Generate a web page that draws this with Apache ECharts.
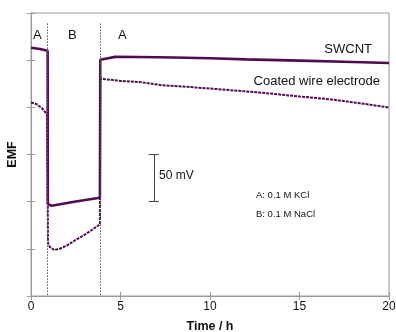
<!DOCTYPE html>
<html><head><meta charset="utf-8">
<script src="https://cdn.jsdelivr.net/npm/echarts@6/dist/echarts.min.js"></script>
<style>html,body{margin:0;padding:0;background:#fff}#c{width:396px;height:332px}</style>
</head><body><div id="c"></div>
<script>
// Time axis ticks (h)
var xTicks = [0, 5, 10, 15, 20];
// SWCNT electrode
var timeSW = [0, 0.5, 0.93, 0.94, 1.15, 2.5, 3.85, 3.87, 4.7, 6, 8, 10, 12, 15, 18, 20];
var emfSW  = [263.2, 261.8, 260, 97.5, 95.7, 100.2, 104.2, 250.5, 253.5, 253.3, 252.8, 252, 250.8, 249.5, 248, 247];
// Coated wire electrode
var timeCW = [0, 0.3, 0.6, 0.9, 0.93, 0.95, 1.05, 1.3, 1.6, 2.0, 2.5, 3.0, 3.4, 3.85, 3.87, 5, 6.2, 7.3, 8.5, 10.3, 12.9, 15, 16.7, 18.4, 20];
var emfCW  = [205.3, 203.5, 199.3, 192.4, 190.8, 55.9, 52, 48.8, 50, 53.5, 59.4, 65, 70, 76, 230.4, 228, 226.5, 223.5, 222, 219.5, 215.5, 211.5, 208.5, 204.3, 199.8];
// Solution switch times (h)
var switchTimes = [0.93, 3.87];
var switchTop = 289;
// Segment labels
var segLabels = ['A', 'B', 'A'];
// Scale bar: 50 mV
var scaleBarT = 6.86, scaleBarLo = 100, scaleBarHi = 150, scaleCapHalf = 0.28;

var col = '#510c51';
function pairs(t, v){ return t.map(function(x,i){return [x, v[i]];}); }

var axisGray = '#9a9a9a';
var chart = echarts.init(document.getElementById('c'), null, {renderer:'canvas'});
var font = 'Liberation Sans, Arial, sans-serif';
chart.setOption({
  animation: false,
  textStyle: {fontFamily: font},
  grid: {left: 31, right: 7, top: 13, bottom: 36, show: true, borderColor: axisGray, borderWidth: 1,
         containLabel: false, outerBoundsMode: 'none'},
  xAxis: [{
    type: 'value', min: 0, max: 20, interval: 5, position: 'bottom',
    name: 'Time / h', nameLocation: 'middle', nameGap: 24,
    nameTextStyle: {fontWeight: 'bold', fontSize: 12.5, color: '#111', fontFamily: font},
    axisLine: {lineStyle: {color: axisGray}},
    axisTick: {inside: true, length: 4, lineStyle: {color: axisGray}},
    axisLabel: {fontSize: 12, color: '#111', margin: 5, fontFamily: font},
    splitLine: {show: false}
  }, {
    type: 'value', min: 0, max: 20, interval: 5, position: 'top',
    axisLine: {lineStyle: {color: axisGray}},
    axisTick: {inside: true, length: 4, lineStyle: {color: axisGray}},
    axisLabel: {show: false}, splitLine: {show: false}
  }],
  yAxis: [{
    type: 'value', min: 0, max: 300, interval: 50, position: 'left',
    name: 'EMF', nameLocation: 'middle', nameGap: 12, nameRotate: 90,
    nameTextStyle: {fontWeight: 'bold', fontSize: 12.5, color: '#111', fontFamily: font},
    axisLine: {show: true, lineStyle: {color: axisGray}},
    axisTick: {show: true, inside: true, length: 4, lineStyle: {color: axisGray}},
    axisLabel: {show: false}, splitLine: {show: false}
  }, {
    type: 'value', min: 0, max: 300, interval: 50, position: 'right',
    axisLine: {show: true, lineStyle: {color: axisGray}},
    axisTick: {show: true, inside: true, length: 4, lineStyle: {color: axisGray}},
    axisLabel: {show: false}, splitLine: {show: false}
  }],
  series: [
    {
      type: 'line', name: 'Coated wire electrode', data: pairs(timeCW, emfCW),
      symbol: 'none', lineStyle: {color: col, width: 2, type: [3, 1]}, z: 3,
      markLine: {
        silent: true, symbol: 'none', label: {show: false},
        lineStyle: {color: '#555', width: 1, type: [1.5, 1.5]},
        data: switchTimes.map(function(t){ return [{coord: [t, switchTop]}, {coord: [t, 0]}]; })
      }
    },
    {
      type: 'line', name: 'SWCNT', data: pairs(timeSW, emfSW),
      symbol: 'none', lineStyle: {color: col, width: 2.6}, z: 4,
      markLine: {
        silent: true, symbol: 'none', label: {show: false},
        lineStyle: {color: '#444', width: 1, type: 'solid'},
        data: [
          [{coord: [scaleBarT, scaleBarHi]}, {coord: [scaleBarT, scaleBarLo]}],
          [{coord: [scaleBarT - scaleCapHalf, scaleBarHi]}, {coord: [scaleBarT + scaleCapHalf, scaleBarHi]}],
          [{coord: [scaleBarT - scaleCapHalf, scaleBarLo]}, {coord: [scaleBarT + scaleCapHalf, scaleBarLo]}]
        ]
      }
    }
  ],
  graphic: [
    {type: 'text', left: 33, top: 29, style: {text: segLabels[0], font: '13px ' + font, fill: '#111'}},
    {type: 'text', left: 68, top: 29, style: {text: segLabels[1], font: '13px ' + font, fill: '#111'}},
    {type: 'text', left: 118, top: 29, style: {text: segLabels[2], font: '13px ' + font, fill: '#111'}},
    {type: 'text', right: 24, top: 43, style: {text: 'SWCNT', font: '13px ' + font, fill: '#111'}},
    {type: 'text', right: 16, top: 75, style: {text: 'Coated wire electrode', font: '13px ' + font, fill: '#111'}},
    {type: 'text', left: 159, top: 170, style: {text: '50 mV', font: '12px ' + font, fill: '#111'}},
    {type: 'text', left: 256, top: 190, style: {text: 'A: 0.1 M KCl', font: '9.5px ' + font, fill: '#111'}},
    {type: 'text', left: 256, top: 209, style: {text: 'B: 0.1 M NaCl', font: '9.5px ' + font, fill: '#111'}}
  ]
});
</script></body></html>
